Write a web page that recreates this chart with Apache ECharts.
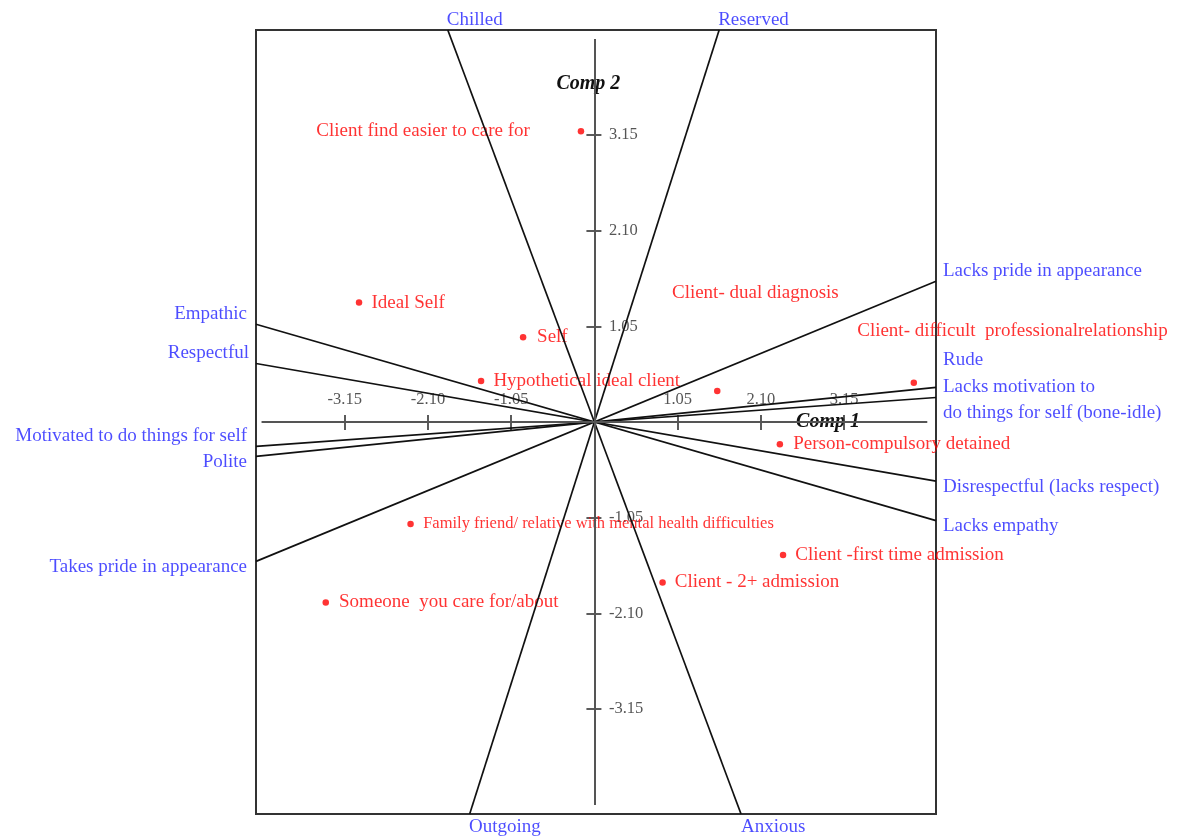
<!DOCTYPE html>
<html>
<head>
<meta charset="utf-8">
<script src="https://cdn.jsdelivr.net/npm/echarts@6/dist/echarts.min.js"></script>
<style>
  html, body { margin: 0; padding: 0; background: #fff; }
  #chart { width: 1184px; height: 839px; }
</style>
</head>
<body>
<div id="chart"></div>
<script>
// Plot window of the biplot (component units)
const X_RANGE = [-4.27, 4.31];
const Y_RANGE = [-4.3, 4.3];
// Half-length of the drawn component axes
const AXIS_EXTENT = 4.2;
// Tick positions shared by both components
const TICK_VALUES = [-3.15, -2.10, -1.05, 1.05, 2.10, 3.15];

// Elements (red points): scores on Comp 1 and Comp 2
const ELEMENTS = [
  'Client find easier to care for',
  'Ideal Self',
  'Self',
  'Hypothetical ideal client',
  'Client- dual diagnosis',
  'Client- difficult  professionalrelationship',
  'Person-compulsory detained',
  'Family friend/ relative with mental health difficulties',
  'Client -first time admission',
  'Client - 2+ admission',
  'Someone  you care for/about'
];
const COMP1 = [-0.17, -2.97, -0.90, -1.43, 1.55, 4.03, 2.34, -2.32, 2.38, 0.86, -3.39];
const COMP2 = [3.19, 1.31, 0.93, 0.45, 0.34, 0.43, -0.245, -1.12, -1.46, -1.76, -1.98];

// Constructs: pole at the positive end of each loading vector and its opposite pole
const POLE_POS = [
  'Reserved',
  'Anxious',
  'Lacks pride in appearance',
  'Rude',
  'Lacks motivation to\ndo things for self (bone-idle)',
  'Disrespectful (lacks respect)',
  'Lacks empathy'
];
const POLE_NEG = [
  'Outgoing',
  'Chilled',
  'Takes pride in appearance',
  'Polite',
  'Motivated to do things for self',
  'Respectful',
  'Empathic'
];
const LOAD_X = [1.574, 1.85, 4.31, 4.31, 4.31, 4.31, 4.31];
const LOAD_Y = [4.30, -4.30, 1.543, 0.380, 0.269, -0.648, -1.082];

// Label placement: pixel offset of the text anchor from its mark, and text alignment
const ELEMENT_LABEL = {
  'Client find easier to care for': { off: [-51, 0], align: 'right' },
  'Ideal Self': { off: [12.5, 0], align: 'left' },
  'Self': { off: [14, 0], align: 'left' },
  'Hypothetical ideal client': { off: [12.3, 0], align: 'left' },
  'Client- dual diagnosis': { off: [-45.3, -97.7], align: 'left' },
  'Client- difficult  professionalrelationship': { off: [-56.6, -51.7], align: 'left' },
  'Person-compulsory detained': { off: [13.4, 0], align: 'left' },
  'Family friend/ relative with mental health difficulties': { off: [12.6, 0], align: 'left', fontSize: 16.5 },
  'Client -first time admission': { off: [12.3, 0], align: 'left' },
  'Client - 2+ admission': { off: [12.3, 0], align: 'left' },
  'Someone  you care for/about': { off: [13.3, 0], align: 'left' }
};
const POLE_LABEL = {
  'Chilled': { off: [-1, -10], align: 'left' },
  'Reserved': { off: [-1, -10], align: 'left' },
  'Outgoing': { off: [-0.7, 12.7], align: 'left' },
  'Anxious': { off: [0, 12.7], align: 'left' },
  'Lacks pride in appearance': { off: [7, -10], align: 'left' },
  'Rude': { off: [7, -27.3], align: 'left' },
  'Lacks motivation to\ndo things for self (bone-idle)': { off: [7, 2.5], align: 'left' },
  'Disrespectful (lacks respect)': { off: [7, 5.7], align: 'left' },
  'Lacks empathy': { off: [7, 5.3], align: 'left' },
  'Empathic': { off: [-9, -10], align: 'right' },
  'Respectful': { off: [-7, -10.4], align: 'right' },
  'Motivated to do things for self': { off: [-9, -10.7], align: 'right' },
  'Polite': { off: [-9, 6], align: 'right' },
  'Takes pride in appearance': { off: [-9, 6], align: 'right' }
};
// Tick label anchors relative to their tick on each component axis
const X_TICK_LABEL_OFF = [0, -22];
const Y_TICK_LABEL_OFF = [14.5, 0];

const SERIF = 'Liberation Serif, Times New Roman, serif';
const RED = '#ff0000';
const BLUE = '#1f1fff';
const DOT = 6.5;
const ANCHOR = 1;

// Scale a loading vector so that it ends on the edge of the plot window
function boxEnd(dx, dy) {
  let t = Infinity;
  if (dx > 0) t = Math.min(t, X_RANGE[1] / dx);
  if (dx < 0) t = Math.min(t, X_RANGE[0] / dx);
  if (dy > 0) t = Math.min(t, Y_RANGE[1] / dy);
  if (dy < 0) t = Math.min(t, Y_RANGE[0] / dy);
  return [dx * t, dy * t];
}

// Label position for a mark of the given size (position is measured from the mark's top-left corner)
function labelAt(off, size) {
  return [off[0] + size / 2, off[1] + size / 2];
}

const constructSeries = POLE_POS.map((name, i) => ({
  type: 'line',
  name: name,
  silent: true,
  clip: false,
  symbol: 'none',
  lineStyle: { color: '#111', width: 1.7 },
  data: [boxEnd(-LOAD_X[i], -LOAD_Y[i]), boxEnd(LOAD_X[i], LOAD_Y[i])]
}));

function poleItem(name, value) {
  const s = POLE_LABEL[name];
  return { name: name, value: value, label: { position: labelAt(s.off, ANCHOR), align: s.align } };
}
const poleData = [];
POLE_POS.forEach((name, i) => {
  poleData.push(poleItem(name, boxEnd(LOAD_X[i], LOAD_Y[i])));
  poleData.push(poleItem(POLE_NEG[i], boxEnd(-LOAD_X[i], -LOAD_Y[i])));
});

const elementData = ELEMENTS.map((name, i) => {
  const s = ELEMENT_LABEL[name];
  const label = { position: labelAt(s.off, DOT), align: s.align };
  if (s.fontSize) label.fontSize = s.fontSize;
  return { name: name, value: [COMP1[i], COMP2[i]], label: label };
});

const fmt = v => v.toFixed(2);
const tickLabelData = [].concat(
  TICK_VALUES.map(t => ({ name: fmt(t), value: [t, 0], label: { position: labelAt(X_TICK_LABEL_OFF, ANCHOR), align: 'center' } })),
  TICK_VALUES.map(t => ({ name: fmt(t), value: [0, t], label: { position: labelAt(Y_TICK_LABEL_OFF, ANCHOR), align: 'left' } }))
);

const tickLine = { color: '#333', width: 1.6 };
const titleFont = { fontFamily: SERIF, fontSize: 20, fontStyle: 'italic', fontWeight: 'bold', color: '#111' };

function makeAxis(range, position, tickLen) {
  return {
    type: 'value', min: range[0], max: range[1], position: position,
    axisLine: { show: false, onZero: true, onZeroAxisIndex: 0 },
    axisTick: { show: true, customValues: TICK_VALUES, length: tickLen, lineStyle: tickLine },
    axisLabel: { show: false },
    splitLine: { show: false }
  };
}

const xTop = makeAxis(X_RANGE, 'top', 7);
Object.assign(xTop, {
  name: 'Comp 1', nameLocation: 'end', nameGap: -108, nameMoveOverlap: false,
  nameTextStyle: Object.assign({ align: 'center', verticalAlign: 'middle', padding: [4, 0, 0, 0] }, titleFont)
});
const yRight = makeAxis(Y_RANGE, 'right', 7);
Object.assign(yRight, {
  name: 'Comp 2', nameLocation: 'end', nameGap: -54, nameMoveOverlap: false,
  nameTextStyle: Object.assign({ align: 'center', verticalAlign: 'middle', padding: [0, 12, 0, 0] }, titleFont)
});

const chart = echarts.init(document.getElementById('chart'), null, { renderer: 'canvas' });
chart.setOption({
  animation: false,
  backgroundColor: '#fff',
  grid: {
    left: 256, top: 30, width: 680, height: 784,
    show: true, borderColor: '#333', borderWidth: 2,
    containLabel: false, outerBoundsMode: 'none'
  },
  xAxis: [xTop, makeAxis(X_RANGE, 'bottom', 8)],
  yAxis: [yRight, makeAxis(Y_RANGE, 'left', 8)],
  series: [
    {
      type: 'line',
      name: 'axes',
      silent: true,
      data: [],
      markLine: {
        silent: true,
        symbol: 'none',
        label: { show: false },
        lineStyle: { color: '#555', width: 2, type: 'solid' },
        data: [
          [{ coord: [-AXIS_EXTENT, 0] }, { coord: [AXIS_EXTENT, 0] }],
          [{ coord: [0, -AXIS_EXTENT] }, { coord: [0, AXIS_EXTENT] }]
        ]
      }
    },
    ...constructSeries,
    {
      type: 'scatter',
      name: 'tick labels',
      silent: true,
      clip: false,
      symbolSize: ANCHOR,
      itemStyle: { color: 'transparent' },
      label: {
        show: true, formatter: '{b}', verticalAlign: 'middle',
        fontFamily: SERIF, fontSize: 16.5, color: '#2b2b2b'
      },
      data: tickLabelData
    },
    {
      type: 'scatter',
      name: 'poles',
      silent: true,
      clip: false,
      symbolSize: ANCHOR,
      itemStyle: { color: 'transparent' },
      label: {
        show: true, formatter: '{b}', verticalAlign: 'middle',
        fontFamily: SERIF, fontSize: 19, color: BLUE, lineHeight: 25.4
      },
      data: poleData
    },
    {
      type: 'scatter',
      name: 'elements',
      silent: true,
      clip: false,
      symbolSize: DOT,
      itemStyle: { color: '#ff0000' },
      label: {
        show: true, formatter: '{b}', verticalAlign: 'middle',
        fontFamily: SERIF, fontSize: 19, color: RED
      },
      data: elementData
    }
  ]
});
</script>
</body>
</html>
